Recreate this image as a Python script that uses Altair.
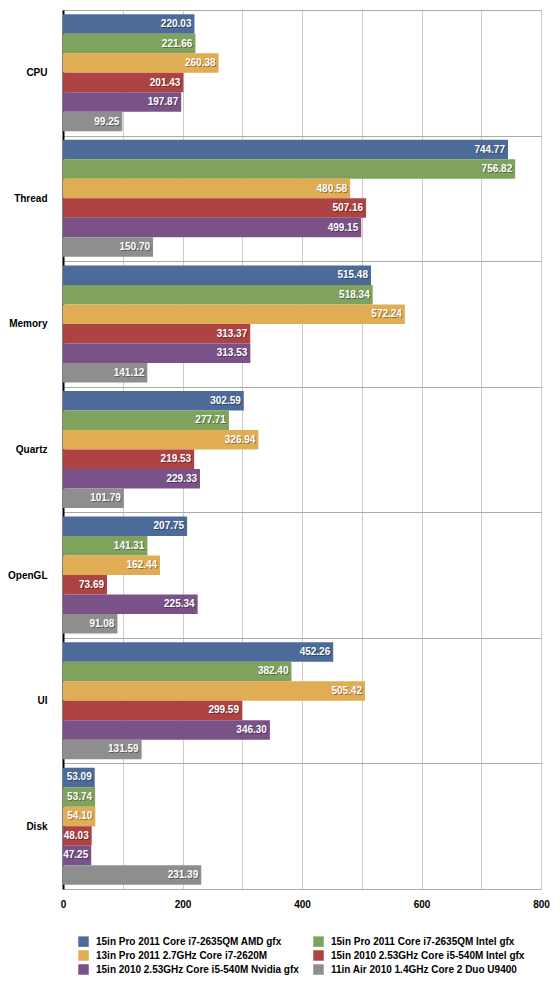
import altair as alt
import pandas as pd

categories = ["CPU", "Thread", "Memory", "Quartz", "OpenGL", "UI", "Disk"]
series = [
    "15in Pro 2011 Core i7-2635QM AMD gfx",
    "15in Pro 2011 Core i7-2635QM Intel gfx",
    "13in Pro 2011 2.7GHz Core i7-2620M",
    "15in 2010 2.53GHz Core i5-540M Intel gfx",
    "15in 2010 2.53GHz Core i5-540M Nvidia gfx",
    "11in Air 2010 1.4GHz Core 2 Duo U9400",
]
colors = ["#4c6b99", "#7fa35d", "#e0ad55", "#ad4343", "#7a5287", "#8e8e8e"]

amd_gfx = [220.03, 744.77, 515.48, 302.59, 207.75, 452.26, 53.09]
intel_gfx = [221.66, 756.82, 518.34, 277.71, 141.31, 382.40, 53.74]
pro13 = [260.38, 480.58, 572.24, 326.94, 162.44, 505.42, 54.10]
i5_intel = [201.43, 507.16, 313.37, 219.53, 73.69, 299.59, 48.03]
i5_nvidia = [197.87, 499.15, 313.53, 229.33, 225.34, 346.30, 47.25]
air11 = [99.25, 150.70, 141.12, 101.79, 91.08, 131.59, 231.39]

all_values = [amd_gfx, intel_gfx, pro13, i5_intel, i5_nvidia, air11]
rows = []
for s, vals in zip(series, all_values):
    for c, v in zip(categories, vals):
        rows.append({"category": c, "series": s, "value": v})
df = pd.DataFrame(rows)

# legend is laid out column by column: reorder so rows read 1-2, 3-4, 5-6
legend_order = [0, 2, 4, 1, 3, 5]
legend_domain = [series[i] for i in legend_order]
legend_range = [colors[i] for i in legend_order]

FONT = "Liberation Sans"

y_enc = alt.Y(
    "category:N",
    sort=categories,
    title=None,
    scale=alt.Scale(paddingInner=0, paddingOuter=0),
    axis=alt.Axis(
        tickBand="extent",
        grid=True,
        gridColor="#aaaaaa",
        gridWidth=1,
        ticks=False,
        domainColor="#000000",
        domainWidth=2,
        labelFont=FONT,
        labelFontWeight="bold",
        labelFontSize=10,
        labelColor="#000000",
        labelPadding=16,
    ),
)
yoff_enc = alt.YOffset(
    "series:N",
    sort=series,
    scale=alt.Scale(paddingInner=0, paddingOuter=0.22),
)
x_enc = alt.X(
    "value:Q",
    title=None,
    scale=alt.Scale(domain=[0, 800], nice=False),
    axis=alt.Axis(
        values=[0, 100, 200, 300, 400, 500, 600, 700, 800],
        labelExpr="datum.value % 200 == 0 ? datum.label : ''",
        labelFlush=False,
        labelOverlap=False,
        grid=True,
        gridColor="#cccccc",
        ticks=False,
        domain=False,
        labelFont=FONT,
        labelFontWeight="bold",
        labelFontSize=10,
        labelColor="#000000",
        labelPadding=10,
    ),
)

bars = alt.Chart(df).mark_bar().encode(
    x=x_enc,
    y=y_enc,
    yOffset=yoff_enc,
    color=alt.Color(
        "series:N",
        scale=alt.Scale(domain=legend_domain, range=legend_range),
        legend=alt.Legend(
            title=None,
            orient="none",
            legendX=15,
            legendY=926,
            columns=2,
            columnPadding=14,
            rowPadding=3,
            labelOffset=7,
            symbolType="square",
            symbolSize=110,
            symbolStrokeWidth=0,
            symbolOpacity=1,
            labelFont=FONT,
            labelFontWeight="bold",
            labelFontSize=10,
            labelColor="#000000",
            labelLimit=400,
        ),
    ),
)

shadow = alt.Chart(df).mark_text(
    align="right", baseline="middle", dx=-2, dy=1, clip=True,
    font=FONT, fontWeight="bold", fontSize=10, color="#000000", opacity=0.35,
).encode(
    x=x_enc, y=y_enc, yOffset=yoff_enc,
    text=alt.Text("value:Q", format=".2f"),
)

labels = alt.Chart(df).mark_text(
    align="right", baseline="middle", dx=-3, clip=True,
    font=FONT, fontWeight="bold", fontSize=10, color="#ffffff",
).encode(
    x=x_enc, y=y_enc, yOffset=yoff_enc,
    text=alt.Text("value:Q", format=".2f"),
)

chart = (
    alt.layer(bars, shadow, labels)
    .properties(
        width=478,
        height=879,
        autosize=alt.AutoSizeParams(type="none"),
        padding={"left": 55, "top": 2, "right": 10, "bottom": 100},
    )
    .configure_view(stroke="#aaaaaa", strokeWidth=1)
    .configure(background="#ffffff")
)

chart.save("out.html", embed_options={"renderer": "svg", "actions": False})
